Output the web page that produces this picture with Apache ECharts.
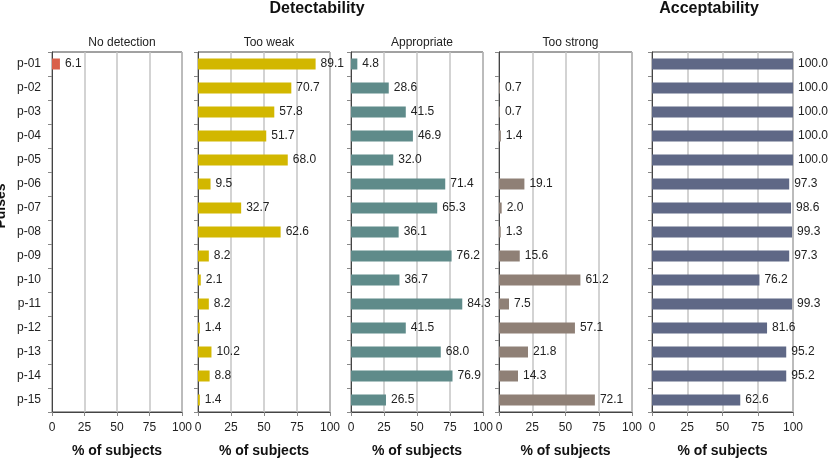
<!DOCTYPE html>
<html><head><meta charset="utf-8">
<script src="https://cdn.jsdelivr.net/npm/echarts@6/dist/echarts.min.js"></script>
<style>html,body{margin:0;padding:0;background:#fff}#c{width:830px;height:464px}</style>
</head><body><div id="c"></div>
<script>
const categories = ['p-01','p-02','p-03','p-04','p-05','p-06','p-07','p-08','p-09','p-10','p-11','p-12','p-13','p-14','p-15'];
const noDetection = [6.1, null, null, null, null, null, null, null, null, null, null, null, null, null, null];
const tooWeak = [89.1, 70.7, 57.8, 51.7, 68.0, 9.5, 32.7, 62.6, 8.2, 2.1, 8.2, 1.4, 10.2, 8.8, 1.4];
const appropriate = [4.8, 28.6, 41.5, 46.9, 32.0, 71.4, 65.3, 36.1, 76.2, 36.7, 84.3, 41.5, 68.0, 76.9, 26.5];
const tooStrong = [null, 0.7, 0.7, 1.4, null, 19.1, 2.0, 1.3, 15.6, 61.2, 7.5, 57.1, 21.8, 14.3, 72.1];
const acceptability = [100.0, 100.0, 100.0, 100.0, 100.0, 97.3, 98.6, 99.3, 97.3, 76.2, 99.3, 81.6, 95.2, 95.2, 62.6];
const xTicks = [0, 25, 50, 75, 100];
const panelTitles = ['No detection', 'Too weak', 'Appropriate', 'Too strong', ''];
const groupTitles = ['Detectability', 'Acceptability'];
const yAxisTitle = 'Pulses';

const panels = [
  {l: 52, r: 182, data: noDetection, color: '#d9604a'},
  {l: 198, r: 330, data: tooWeak, color: '#d2b700'},
  {l: 351, r: 483, data: appropriate, color: '#5f8b8a'},
  {l: 499, r: 632, data: tooStrong, color: '#8f8076'},
  {l: 652, r: 793, data: acceptability, color: '#5f6886'}
];
const font = 'Liberation Sans, Arial, sans-serif';
const grid = [], xAxis = [], yAxis = [], series = [], title = [];
panels.forEach((p, i) => {
  grid.push({left: p.l, width: p.r - p.l, top: 52, height: 360, containLabel: false, outerBoundsMode: 'none',
    show: true, borderColor: '#444', borderWidth: 1, backgroundColor: 'transparent'});
  xAxis.push({type: 'value', gridIndex: i, min: 0, max: 100, interval: 25,
    axisLine: {show: true, lineStyle: {color: '#444'}},
    axisTick: {show: true, length: 4, lineStyle: {color: '#888'}},
    axisLabel: {fontSize: 12, color: '#222', fontFamily: font, margin: 10, formatter: v => xTicks.includes(v) ? String(v) : ''},
    splitLine: {show: true, lineStyle: {color: '#c4c4c4', width: 1.5}},
    name: '% of subjects', nameLocation: 'middle', nameGap: 32,
    nameTextStyle: {fontSize: 14, fontWeight: 'bold', color: '#111', fontFamily: font}
  });
  yAxis.push({type: 'category', gridIndex: i, data: categories, inverse: true,
    axisLine: {show: true, lineStyle: {color: '#444'}},
    axisTick: {show: true, length: 4, lineStyle: {color: '#888'}},
    axisLabel: {show: i === 0, fontSize: 12, color: '#222', fontFamily: font, margin: 11}
  });
  series.push({type: 'bar', xAxisIndex: i, yAxisIndex: i, data: p.data, barWidth: 11,
    itemStyle: {color: p.color},
    label: {show: true, position: 'right', distance: 5, fontSize: 12, color: '#222', fontFamily: font,
      formatter: d => d.value == null ? '' : Number(d.value).toFixed(1)}
  });
  if (panelTitles[i]) title.push({text: panelTitles[i], left: (p.l + p.r) / 2, top: 32, textAlign: 'center',
    textStyle: {fontSize: 12, fontWeight: 'normal', color: '#222', fontFamily: font}});
});
title.push({text: groupTitles[0], left: 312, top: -4, textAlign: 'center', textStyle: {fontSize: 16, fontWeight: 'bold', color: '#111', fontFamily: font}});
title.push({text: groupTitles[1], left: 704, top: -4, textAlign: 'center', textStyle: {fontSize: 16, fontWeight: 'bold', color: '#111', fontFamily: font}});

const graphic = [{type: 'text', x: 1, y: 206, rotation: Math.PI / 2,
  style: {text: yAxisTitle, align: 'center', verticalAlign: 'middle', fill: '#111', font: 'bold 14px ' + font}}];

const chart = echarts.init(document.getElementById('c'));
chart.setOption({animation: false, backgroundColor: '#fff', title, grid, xAxis, yAxis, series, graphic});
</script></body></html>
